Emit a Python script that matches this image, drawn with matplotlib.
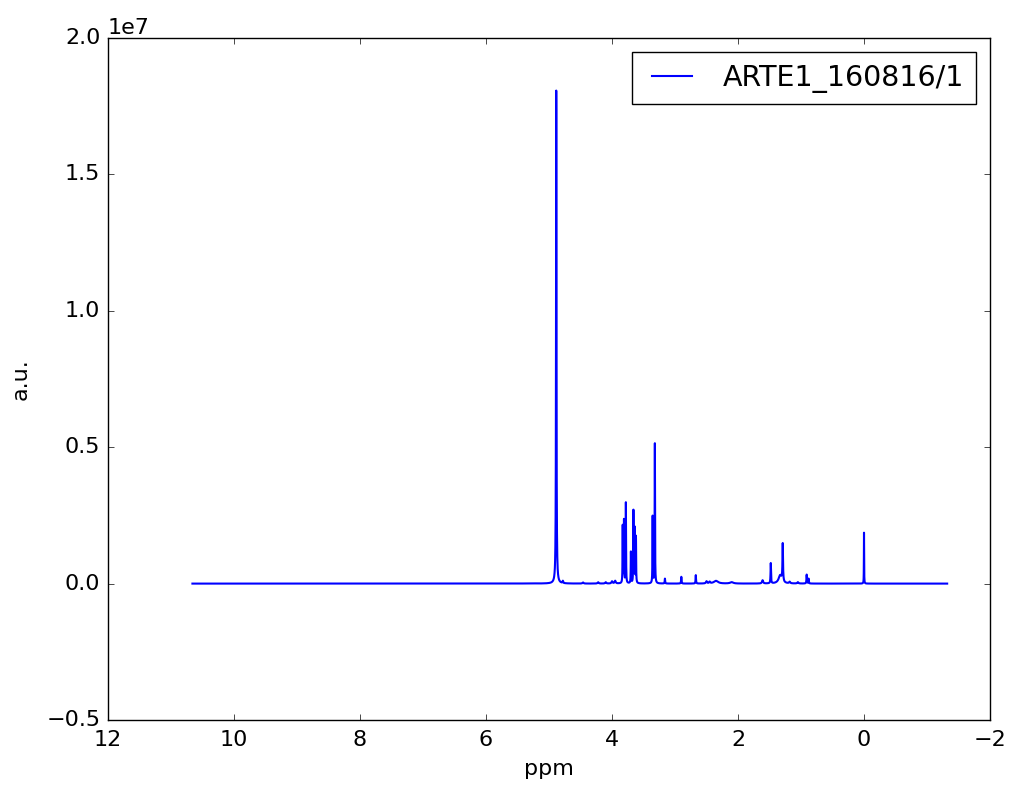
import numpy as np
import matplotlib
matplotlib.use("Agg")
import matplotlib.pyplot as plt

plt.style.use("classic")

# Peak table (ppm, height in a.u., half width in ppm)
peak_ppm = [5.30, 4.885, 4.78, 4.46, 4.22, 4.10, 4.00, 3.95,
            3.83, 3.81, 3.78, 3.70, 3.66, 3.64, 3.62, 3.355, 3.32,
            3.16, 2.90, 2.67, 2.50, 2.45, 2.35, 2.10,
            1.61, 1.48, 1.33, 1.29, 1.18, 1.05, 0.91, 0.88, 0.00]
peak_height = [0.01e6, 18.1e6, 0.08e6, 0.04e6, 0.05e6, 0.05e6, 0.08e6, 0.10e6,
               2.1e6, 2.3e6, 2.95e6, 1.15e6, 2.65e6, 2.0e6, 1.7e6, 2.5e6, 5.2e6,
               0.18e6, 0.25e6, 0.31e6, 0.08e6, 0.06e6, 0.10e6, 0.05e6,
               0.12e6, 0.75e6, 0.30e6, 1.38e6, 0.06e6, 0.05e6, 0.33e6, 0.18e6, 1.87e6]
peak_width = [0.08, 0.004, 0.005, 0.01, 0.01, 0.01, 0.01, 0.01,
              0.003, 0.003, 0.003, 0.003, 0.003, 0.003, 0.003, 0.003, 0.003,
              0.004, 0.004, 0.004, 0.01, 0.01, 0.04, 0.03,
              0.01, 0.004, 0.03, 0.005, 0.01, 0.01, 0.004, 0.004, 0.002]
ppm_start, ppm_stop = 10.66, -1.32
label = "ARTE1_160816/1"

ppm = np.linspace(ppm_start, ppm_stop, 12000)
intensity = np.zeros_like(ppm)
for c, h, w in zip(peak_ppm, peak_height, peak_width):
    intensity += h * w**2 / ((ppm - c)**2 + w**2)

fig = plt.figure(figsize=(10.13, 7.89), dpi=100, facecolor="white")
ax = fig.add_axes([108/1013, 1 - 720/789, 882/1013, 682/789])
ax.plot(ppm, intensity, color="blue", lw=1.5, label=label)
ax.set_xlim(12, -2)
ax.set_ylim(-0.5e7, 2.0e7)
ax.set_xticks([12, 10, 8, 6, 4, 2, 0, -2])
ax.set_yticks([-0.5e7, 0, 0.5e7, 1.0e7, 1.5e7, 2.0e7])
ax.tick_params(axis="x", labelsize=16, pad=7)
ax.tick_params(axis="y", labelsize=16, pad=5.5)
ax.yaxis.get_offset_text().set_fontsize(16)
ax.set_xlabel("ppm", fontsize=16, labelpad=7)
ax.set_ylabel("a.u.", fontsize=16, labelpad=11)
ax.legend(loc="upper right", fontsize=20.5, handlelength=2.0, handletextpad=0.8,
          borderpad=0.4, borderaxespad=0.5)
fig.savefig("out.png", dpi=100, facecolor="white")
